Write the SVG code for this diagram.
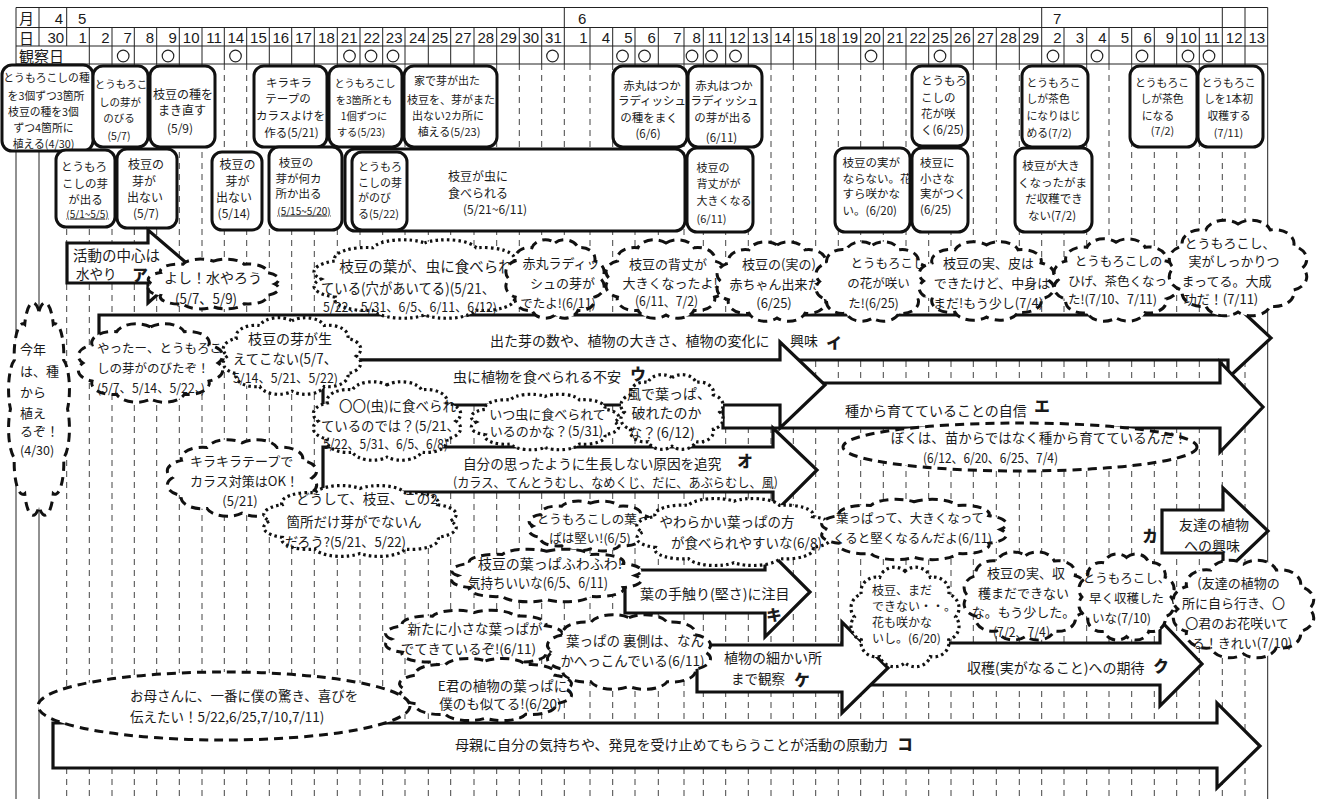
<svg xmlns="http://www.w3.org/2000/svg" width="1319" height="799" viewBox="0 0 1319 799">
<defs>
<style>
text { font-family: "Noto Sans CJK JP", "Noto Sans", sans-serif; fill: #1a1a1a; dominant-baseline: central; }
.num { font-family: "Liberation Sans", Arial, sans-serif; font-size: 15px; text-anchor: end; }
.hd { font-size: 15px; }
.c { text-anchor: middle; }
.solid { stroke: #222; stroke-width: 1; fill: none; }
.vd { stroke: #444; stroke-width: 1; stroke-dasharray: 6 5; fill: none; }
.obs { fill: none; stroke: #222; stroke-width: 1.2; }
.ev { fill: #fff; stroke: #111; stroke-width: 3; }
.ar { fill: #fff; stroke: #111; stroke-width: 3.2; stroke-linejoin: miter; }
.cp { vector-effect: non-scaling-stroke; }
.dash { fill: #fff; stroke: #111; stroke-width: 3; stroke-dasharray: 9 6; }
.dot { fill: #fff; stroke: #111; stroke-width: 3.2; stroke-dasharray: 2.5 3.2; }
.tag { font-weight: 900; font-size: 15.5px; text-anchor: middle; }
.ul { text-decoration: underline; }
</style>
<!-- generic cloud outline in a 100x100 box -->
<path id="cloud" class="cp" d="M50,6 A14,14 0 0 1 73,11.9 A14,14 0 0 1 89.8,28 A14,14 0 0 1 96,50 A14,14 0 0 1 89.8,72 A14,14 0 0 1 73,88.1 A14,14 0 0 1 50,94 A14,14 0 0 1 27,88.1 A14,14 0 0 1 10.2,72 A14,14 0 0 1 4,50 A14,14 0 0 1 10.2,28 A14,14 0 0 1 27,11.9 A14,14 0 0 1 50,6 Z"/>
</defs>
<rect width="1319" height="799" fill="#fff"/>

<!-- timeline table -->
<g id="table">
<path class="vd" d="M66.7,64V799 M89.3,64V799 M112,64V799 M134.3,64V799 M156.7,64V799 M179.3,64V799 M202,64V799 M224.3,64V799 M246.7,64V799 M269.3,64V799 M291.7,64V799 M314.3,64V799 M337.3,64V799 M360,64V799 M382.7,64V799 M405,64V799 M428.3,64V799 M450.7,64V799 M474,64V799 M496.7,64V799 M519.3,64V799 M541.7,64V799 M564.3,64V799 M590,64V799 M612.7,64V799 M635,64V799 M658.3,64V799 M684,64V799 M703.3,64V799 M725.7,64V799 M748.3,64V799 M771,64V799 M793.3,64V799 M815.7,64V799 M838.3,64V799 M860.7,64V799 M883.3,64V799 M906,64V799 M928.7,64V799 M951,64V799 M973.3,64V799 M996.3,64V799 M1019.3,64V799 M1041.7,64V799 M1064,64V799 M1086.7,64V799 M1109,64V799 M1131.7,64V799 M1154.3,64V799 M1176.7,64V799 M1199.3,64V799 M1222.3,64V799 M1245,64V799"/>
<path class="solid" d="M16,7.5H1267.7 M16,27.5H1267.7 M16,46H1267.7 M16,64H1267.7 M16,7.5V799 M1267.7,7.5V799 M39,7.5V46 M39,64V799 M66.7,7.5V46 M564.3,7.5V64 M1041.7,7.5V64 M1222.3,7.5V64 M1245,7.5V64 M89.3,27.5V64 M112,27.5V64 M134.3,27.5V64 M156.7,27.5V64 M179.3,27.5V64 M202,27.5V64 M224.3,27.5V64 M246.7,27.5V64 M269.3,27.5V64 M291.7,27.5V64 M314.3,27.5V64 M337.3,27.5V64 M360,27.5V64 M382.7,27.5V64 M405,27.5V64 M428.3,27.5V64 M450.7,27.5V64 M474,27.5V64 M496.7,27.5V64 M519.3,27.5V64 M541.7,27.5V64 M590,27.5V64 M612.7,27.5V64 M635,27.5V64 M658.3,27.5V64 M684,27.5V64 M703.3,27.5V64 M725.7,27.5V64 M748.3,27.5V64 M771,27.5V64 M793.3,27.5V64 M815.7,27.5V64 M838.3,27.5V64 M860.7,27.5V64 M883.3,27.5V64 M906,27.5V64 M928.7,27.5V64 M951,27.5V64 M973.3,27.5V64 M996.3,27.5V64 M1019.3,27.5V64 M1064,27.5V64 M1086.7,27.5V64 M1109,27.5V64 M1131.7,27.5V64 M1154.3,27.5V64 M1176.7,27.5V64 M1199.3,27.5V64"/>
<text class="hd" x="19" y="17.5">月</text>
<text class="hd" x="19" y="37">日</text>
<text class="hd" x="19" y="55.5">観察日</text>
<text class="num"><tspan x="63" y="17.5">4</tspan></text>
<text class="num" style="text-anchor:start"><tspan x="78" y="17.5">5</tspan><tspan x="578" y="17.5">6</tspan><tspan x="1053" y="17.5">7</tspan></text>
<text class="num" y="37"><tspan x="64.2" y="37">30</tspan><tspan x="86.8" y="37">1</tspan><tspan x="109.5" y="37">2</tspan><tspan x="131.8" y="37">7</tspan><tspan x="154.2" y="37">8</tspan><tspan x="176.8" y="37">9</tspan><tspan x="199.5" y="37">10</tspan><tspan x="221.8" y="37">11</tspan><tspan x="244.2" y="37">14</tspan><tspan x="266.8" y="37">15</tspan><tspan x="289.2" y="37">16</tspan><tspan x="311.8" y="37">17</tspan><tspan x="334.8" y="37">18</tspan><tspan x="357.5" y="37">21</tspan><tspan x="380.2" y="37">22</tspan><tspan x="402.5" y="37">23</tspan><tspan x="425.8" y="37">24</tspan><tspan x="448.2" y="37">25</tspan><tspan x="471.5" y="37">27</tspan><tspan x="494.2" y="37">28</tspan><tspan x="516.8" y="37">29</tspan><tspan x="539.2" y="37">30</tspan><tspan x="561.8" y="37">31</tspan><tspan x="587.5" y="37">1</tspan><tspan x="610.2" y="37">4</tspan><tspan x="632.5" y="37">5</tspan><tspan x="655.8" y="37">6</tspan><tspan x="681.5" y="37">7</tspan><tspan x="700.8" y="37">8</tspan><tspan x="723.2" y="37">11</tspan><tspan x="745.8" y="37">12</tspan><tspan x="768.5" y="37">13</tspan><tspan x="790.8" y="37">14</tspan><tspan x="813.2" y="37">15</tspan><tspan x="835.8" y="37">18</tspan><tspan x="858.2" y="37">19</tspan><tspan x="880.8" y="37">20</tspan><tspan x="903.5" y="37">21</tspan><tspan x="926.2" y="37">22</tspan><tspan x="948.5" y="37">25</tspan><tspan x="970.8" y="37">26</tspan><tspan x="993.8" y="37">27</tspan><tspan x="1016.8" y="37">28</tspan><tspan x="1039.2" y="37">29</tspan><tspan x="1061.5" y="37">2</tspan><tspan x="1084.2" y="37">3</tspan><tspan x="1106.5" y="37">4</tspan><tspan x="1129.2" y="37">5</tspan><tspan x="1151.8" y="37">6</tspan><tspan x="1174.2" y="37">9</tspan><tspan x="1196.8" y="37">10</tspan><tspan x="1219.8" y="37">11</tspan><tspan x="1242.5" y="37">12</tspan><tspan x="1265.2" y="37">13</tspan></text>
<g class="obs">
<circle cx="123.2" cy="56" r="5.8"/><circle cx="168" cy="56" r="5.8"/><circle cx="235.5" cy="56" r="5.8"/>
<circle cx="349.5" cy="56" r="5.8"/><circle cx="371" cy="56" r="5.8"/><circle cx="393" cy="56" r="5.8"/>
<circle cx="552.5" cy="56" r="5.8"/><circle cx="622.5" cy="56" r="5.8"/><circle cx="644.5" cy="56" r="5.8"/>
<circle cx="692" cy="56" r="5.8"/><circle cx="711.5" cy="56" r="5.8"/><circle cx="735.5" cy="56" r="5.8"/>
<circle cx="871" cy="56" r="5.8"/><circle cx="940" cy="56" r="5.8"/><circle cx="1053" cy="56" r="5.8"/>
<circle cx="1097" cy="56" r="5.8"/><circle cx="1142" cy="56" r="5.8"/><circle cx="1188" cy="56" r="5.8"/>
<circle cx="1209" cy="56" r="5.8"/>
</g>
</g>

<!-- events, upper row -->
<g id="ev-a1" font-size="10.8"><rect class="ev" x="2" y="65" width="91" height="86" rx="10"/>
<text class="c" x="46.5" y="77">とうもろこしの種</text><text class="c" x="46" y="94.5">を3個ずつ3箇所</text><text class="c" x="43.5" y="110.5">枝豆の種を3個</text><text class="c" x="43.5" y="127">ずつ4箇所に</text><text class="c" x="43.5" y="143">植える(4/30)</text></g>
<g id="ev-a2" font-size="10.5"><rect class="ev" x="93" y="66" width="55" height="81" rx="10"/>
<text class="c" x="121" y="83">とうもろこ</text><text class="c" x="120" y="101">しの芽が</text><text class="c" x="119" y="117">のびる</text><text class="c" x="119" y="135">(5/7)</text></g>
<g id="ev-a3" font-size="12"><rect class="ev" x="150" y="66" width="65" height="81" rx="10"/>
<text class="c" x="183" y="93">枝豆の種を</text><text class="c" x="182" y="109">まき直す</text><text class="c" x="180" y="127">(5/9)</text></g>
<g id="ev-a4" font-size="11.5"><rect class="ev" x="254" y="66" width="73" height="81" rx="10"/>
<text class="c" x="289" y="82">キラキラ</text><text class="c" x="288" y="98">テープの</text><text class="c" x="290.5" y="115">カラスよけを</text><text class="c" x="291.5" y="132">作る(5/21)</text></g>
<g id="ev-a5" font-size="10.2"><rect class="ev" x="329" y="66" width="73" height="81" rx="10"/>
<text class="c" x="365" y="82">とうもろこし</text><text class="c" x="364" y="99">を3箇所とも</text><text class="c" x="364" y="115">1個ずつに</text><text class="c" x="361" y="131">する(5/23)</text></g>
<g id="ev-a6" font-size="11"><rect class="ev" x="404" y="66" width="93" height="81" rx="10"/>
<text class="c" x="447" y="80">家で芽が出た</text><text class="c" x="451" y="99">枝豆を、芽がまた</text><text class="c" x="448" y="115">出ない2カ所に</text><text class="c" x="449" y="131">植える(5/23)</text></g>
<g id="ev-a7" font-size="11.5"><rect class="ev" x="613" y="66" width="74" height="81" rx="10"/>
<text class="c" x="652" y="85">赤丸はつか</text><text class="c" x="652" y="100">ラディッシュ</text><text class="c" x="649" y="117">の種をまく</text><text class="c" x="648" y="133">(6/6)</text></g>
<g id="ev-a8" font-size="11.5"><rect class="ev" x="688" y="66" width="74" height="81" rx="10"/>
<text class="c" x="724" y="85">赤丸はつか</text><text class="c" x="724.5" y="100">ラディッシュ</text><text class="c" x="723" y="117">の芽が出る</text><text class="c" x="721.5" y="137">(6/11)</text></g>
<g id="ev-a9" font-size="11.5"><rect class="ev" x="912" y="66" width="56" height="80" rx="10"/>
<text x="921" y="80">とうもろ</text><text x="921" y="97">こしの</text><text x="921" y="113">花が咲</text><text x="921" y="129">く(6/25)</text></g>
<g id="ev-a10" font-size="10.8"><rect class="ev" x="1022" y="66" width="66" height="81" rx="10"/>
<text x="1026.5" y="82">とうもろこ</text><text x="1026.5" y="98">しが茶色</text><text x="1026.5" y="115">になりはじ</text><text x="1026.5" y="132">める(7/2)</text></g>
<g id="ev-a11" font-size="10.8"><rect class="ev" x="1130" y="66" width="67" height="81" rx="10"/>
<text class="c" x="1162" y="82">とうもろこ</text><text class="c" x="1162" y="98">しが茶色</text><text class="c" x="1158" y="115">になる</text><text class="c" x="1162.5" y="130">(7/2)</text></g>
<g id="ev-a12" font-size="10.8"><rect class="ev" x="1198" y="66" width="65" height="81" rx="10"/>
<text class="c" x="1228.5" y="82">とうもろこ</text><text class="c" x="1228.5" y="98">しを1本初</text><text class="c" x="1229" y="115">収穫する</text><text class="c" x="1228.5" y="132">(7/11)</text></g>

<!-- events, lower row -->
<g id="ev-b1" font-size="11.5"><rect class="ev" x="56" y="150" width="59" height="77" rx="10"/>
<text class="c" x="84" y="166">とうもろ</text><text class="c" x="85" y="183">こしの芽</text><text class="c" x="85.5" y="199">が出る</text><text class="c ul" x="87.5" y="213" font-size="10">(5/1~5/5)</text></g>
<g id="ev-b2" font-size="12"><rect class="ev" x="117" y="149" width="60" height="79" rx="10"/>
<text class="c" x="146" y="163">枝豆の</text><text class="c" x="144" y="180">芽が</text><text class="c" x="145" y="196">出ない</text><text class="c" x="146" y="212">(5/7)</text></g>
<g id="ev-b3" font-size="12"><rect class="ev" x="212" y="152" width="50" height="78" rx="10"/>
<text class="c" x="237.5" y="163">枝豆の</text><text class="c" x="237.5" y="180">芽が</text><text class="c" x="234" y="196">出ない</text><text class="c" x="234" y="212">(5/14)</text></g>
<g id="ev-b4" font-size="11.5"><rect class="ev" x="269" y="147" width="73" height="83" rx="10"/>
<text class="c" x="296" y="162">枝豆の</text><text class="c" x="298.5" y="178">芽が何カ</text><text class="c" x="298.5" y="193">所か出る</text><text class="c ul" x="304" y="210" font-size="10">(5/15~5/20)</text></g>
<g id="ev-b5" font-size="12"><rect class="ev" x="345" y="149" width="340" height="82" rx="10"/>
<text x="448" y="175">枝豆が虫に</text><text x="448" y="192">食べられる</text><text x="463" y="208">(5/21~6/11)</text></g>
<g id="ev-b5i" font-size="11"><rect class="ev" x="352" y="152" width="55" height="78" rx="10"/>
<text x="358" y="166">とうもろ</text><text x="358" y="182">こしの芽</text><text x="358" y="197">がのび</text><text x="358" y="213">る(5/22)</text></g>
<g id="ev-b6" font-size="11"><rect class="ev" x="687" y="148" width="66" height="84" rx="10"/>
<text x="696.5" y="167">枝豆の</text><text x="696.5" y="183">背丈がが</text><text x="696.5" y="200">大きくなる</text><text x="696.5" y="218">(6/11)</text></g>
<g id="ev-b7" font-size="11.5"><rect class="ev" x="835" y="148" width="75" height="84" rx="10"/>
<text x="842.5" y="162">枝豆の実が</text><text x="842.5" y="178">ならない。花</text><text x="842.5" y="193">すら咲かな</text><text x="842.5" y="210">い。(6/20)</text></g>
<g id="ev-b8" font-size="11.5"><rect class="ev" x="912" y="148" width="56" height="84" rx="10"/>
<text x="920" y="162">枝豆に</text><text x="920" y="178">小さな</text><text x="920" y="193">実がつく</text><text x="920" y="209">(6/25)</text></g>
<g id="ev-b9" font-size="11.5"><rect class="ev" x="1015" y="148" width="77" height="84" rx="10"/>
<text class="c" x="1051" y="165">枝豆が大き</text><text class="c" x="1052.5" y="182">くなったがま</text><text class="c" x="1054" y="198">だ収穫でき</text><text class="c" x="1052" y="215">ない(7/2)</text></g>

<!-- block arrows: interest themes -->
<g id="arrows" font-size="14">
<g id="ar-ko"><polygon class="ar" points="53,723 1217,723 1217,703 1260,746 1217,788 1217,768 53,768"/>
<text x="455" y="744">母親に自分の気持ちや、発見を受け止めてもらうことが活動の原動力</text><text class="tag" x="905" y="743">コ</text></g>
<g id="ar-ku"><polygon class="ar" points="842,643 1160,643 1160,620 1202,664 1160,706 1160,685 842,685"/>
<text x="967" y="667">収穫(実がなること)への期待</text><text class="tag" x="1161" y="665">ク</text></g>
<g id="ar-ke"><polygon class="ar" points="697,645 842,645 842,622 888,668 842,713 842,692 697,692"/>
<text class="c" x="773" y="657">植物の細かい所</text><text x="731" y="678" font-size="13.5">まで観察</text><text class="tag" x="802" y="679">ケ</text></g>
<g id="ar-ki"><polygon class="ar" points="625,570 765,570 765,547 810,592 765,637 765,613 625,613"/>
<text x="640" y="593">葉の手触り(堅さ)に注目</text><text class="tag" x="774" y="614">キ</text></g>
<g id="ar-ka"><polygon class="ar" points="1162,510 1223,510 1223,488 1268,531 1223,574 1223,553 1162,553"/>
<text class="c" x="1214" y="524">友達の植物</text><text class="c" x="1212" y="545">への興味</text><text class="tag" x="1150" y="535">カ</text></g>
<g id="ar-i"><polygon class="ar" points="99,315 1228,315 1228,298 1271,338 1228,378 1228,360 99,360"/>
<text x="490" y="340">出た芽の数や、植物の大きさ、植物の変化に<tspan x="790">興味</tspan></text><text class="tag" x="834" y="342">イ</text></g>
<g id="ar-e"><polygon class="ar" points="723,383 1220,383 1220,362 1263,407 1220,452 1220,428 723,428"/>
<text x="845" y="410">種から育てていることの自信</text><text class="tag" x="1042" y="405">エ</text></g>
<g id="ar-u"><polygon class="ar" points="323,360 780,360 780,342 825,385 780,428 780,405 323,405"/>
<text x="453" y="376">虫に植物を食べられる不安</text><text class="tag" x="638" y="373">ウ</text></g>
<g id="ar-o"><polygon class="ar" points="323,447 773,447 773,428 817,470 773,514 773,492 323,492"/>
<text x="463" y="463" font-size="13.6">自分の思ったように生長しない原因を追究</text><text x="453" y="481" font-size="13" textLength="325" lengthAdjust="spacingAndGlyphs">(カラス、てんとうむし、なめくじ、だに、あぶらむし、風)</text><text class="tag" x="745" y="460">オ</text></g>
<g id="ar-a"><polygon class="ar" points="67,243 148,243 148,230 190,266 148,303 148,283 67,283"/>
<text x="73" y="254" font-size="14.5">活動の中心は</text><text x="76" y="273" font-size="13.5">水やり</text><text class="tag" x="140" y="274">ア</text></g>
</g>

<!-- children's remarks -->
<g id="cl-kotoshi" font-size="13"><use href="#cloud" class="dash" transform="translate(8,298) scale(0.62,2.22)"/>
<text x="20" y="348">今年</text><text x="20" y="370">は、種</text><text x="20" y="391">から</text><text x="20" y="412">植え</text><text x="20" y="430">るぞ！</text><text x="20" y="449" font-size="12.5">(4/30)</text></g>
<g id="cl-yoshi" font-size="14"><use href="#cloud" class="dash" transform="translate(147,258) scale(1.33,0.52)"/>
<text class="c" x="213" y="277">よし！水やろう</text><text x="175" y="298" textLength="62" lengthAdjust="spacingAndGlyphs">(5/7、5/9)</text></g>
<g id="cl-yatta" font-size="12.5"><use href="#cloud" class="dash" transform="translate(77,322) scale(1.47,0.82)"/>
<text x="97" y="347">やったー、とうもろこ</text><text x="97" y="367">しの芽がのびたぞ！</text><text x="97" y="387" textLength="108" lengthAdjust="spacingAndGlyphs">(5/7、5/14、5/22、)</text></g>
<g id="cl-edamame-me" font-size="14"><use href="#cloud" class="dot" transform="translate(222,316) scale(1.40,0.80)"/>
<text class="c" x="290" y="338">枝豆の芽が生</text><text x="233" y="358" textLength="104" lengthAdjust="spacingAndGlyphs">えてこない(5/7、</text><text x="233" y="377" font-size="12.5" textLength="105" lengthAdjust="spacingAndGlyphs">5/14、5/21、5/22)</text></g>
<g id="cl-kirakira" font-size="13"><use href="#cloud" class="dash" transform="translate(166,438) scale(1.52,0.80)"/>
<text x="190" y="460">キラキラテープで</text><text x="190" y="480">カラス対策はOK！</text><text class="c" x="240" y="500">(5/21)</text></g>
<g id="cl-doushite" font-size="13.5"><use href="#cloud" class="dot" transform="translate(262,484) scale(1.96,0.74)"/>
<text class="c" x="367" y="498">どうして、枝豆、この2</text><text class="c" x="354" y="521">箇所だけ芽がでないん</text><text x="285" y="541" textLength="121" lengthAdjust="spacingAndGlyphs">だろう?(5/21、5/22)</text></g>
<g id="cl-ha-mushi" font-size="14.5"><use href="#cloud" class="dot" transform="translate(312,238) scale(2.25,0.82)"/>
<text class="c" x="426" y="265">枝豆の葉が、虫に食べられ</text><text x="321" y="287" textLength="174" lengthAdjust="spacingAndGlyphs">ている(穴があいてる)(5/21、</text><text x="323" y="306" font-size="12.5" textLength="174" lengthAdjust="spacingAndGlyphs">5/22、5/31、6/5、6/11、6/12)</text></g>
<g id="cl-radish" font-size="13"><use href="#cloud" class="dash" transform="translate(505,238) scale(1.00,0.82)"/>
<text class="c" x="561" y="262">赤丸ラディッ</text><text class="c" x="562.5" y="282">シュの芽が</text><text class="c" x="558" y="302" font-size="12.5">でたよ!(6/11)</text></g>
<g id="cl-setake" font-size="13"><use href="#cloud" class="dash" transform="translate(605,238) scale(1.22,0.82)"/>
<text class="c" x="668" y="263">枝豆の背丈が</text><text class="c" x="670" y="282">大きくなったよ!</text><text x="635" y="300" textLength="63" lengthAdjust="spacingAndGlyphs">(6/11、7/2)</text></g>
<g id="cl-akachan" font-size="13"><use href="#cloud" class="dash" transform="translate(716,240) scale(1.22,0.83)"/>
<text class="c" x="779" y="263">枝豆の(実の)</text><text class="c" x="775" y="283">赤ちゃん出来た</text><text class="c" x="774" y="302">(6/25)</text></g>
<g id="cl-hana" font-size="12.5"><use href="#cloud" class="dash" transform="translate(815,240) scale(1.15,0.83)"/>
<text class="c" x="888" y="262">とうもろこし</text><text class="c" x="878.5" y="282">の花が咲い</text><text class="c" x="873.5" y="302">た!(6/25)</text></g>
<g id="cl-kawa" font-size="13"><use href="#cloud" class="dash" transform="translate(918,240) scale(1.37,0.82)"/>
<text class="c" x="988.5" y="262">枝豆の実、皮は</text><text class="c" x="992" y="282">できたけど、中身は</text><text class="c" x="988" y="302">まだ!もう少し(7/4)</text></g>
<g id="cl-hige" font-size="12.5"><use href="#cloud" class="dash" transform="translate(1053,237) scale(1.26,0.86)"/>
<text class="c" x="1118.5" y="260">とうもろこしの</text><text class="c" x="1117.5" y="280">ひげ、茶色くなっ</text><text x="1068" y="298" textLength="89" lengthAdjust="spacingAndGlyphs">た!(7/10、7/11)</text></g>
<g id="cl-daiseikou" font-size="13"><use href="#cloud" class="dash" transform="translate(1168,218) scale(1.40,1.00)"/>
<text class="c" x="1230" y="242">とうもろこし、</text><text class="c" x="1234" y="260">実がしっかりつ</text><text class="c" x="1226.5" y="280">まってる。大成</text><text class="c" x="1221" y="298">功だ！(7/11)</text></g>
<g id="cl-boku" font-size="13.5"><ellipse class="dash" cx="1020" cy="447" rx="177" ry="24"/>
<text class="c" x="1039" y="437">ぼくは、苗からではなく種から育てているんだ！</text><text x="923" y="457" textLength="135" lengthAdjust="spacingAndGlyphs">(6/12、6/20、6/25、7/4)</text></g>
<g id="cl-marumaru" font-size="13.5"><use href="#cloud" class="dot" transform="translate(312,380) scale(1.50,0.82)"/>
<text class="c" x="397.5" y="405">〇〇(虫)に食べられ</text><text x="321" y="425" textLength="139" lengthAdjust="spacingAndGlyphs">ているのでは？(5/21、</text><text x="323" y="443" textLength="125" lengthAdjust="spacingAndGlyphs">5/22、5/31、6/5、6/8)</text></g>
<g id="cl-itsu" font-size="13"><use href="#cloud" class="dot" transform="translate(470,393) scale(1.50,0.58)"/>
<text class="c" x="547.5" y="413">いつ虫に食べられて</text><text class="c" x="546.5" y="430">いるのかな？(5/31)</text></g>
<g id="cl-kaze" font-size="14"><use href="#cloud" class="dot" transform="translate(620,373) scale(1.04,0.78)"/>
<text class="c" x="669" y="393">風で葉っぱ、</text><text class="c" x="666.5" y="412">破れたのか</text><text class="c" x="661.5" y="432">な？(6/12)</text></g>
<g id="cl-katai" font-size="12.5"><use href="#cloud" class="dash" transform="translate(528,500) scale(1.25,0.52)"/>
<text class="c" x="593" y="518">とうもろこしの葉っ</text><text class="c" x="590" y="537">ぱは堅い!(6/5)</text></g>
<g id="cl-yawaraka" font-size="13.5"><use href="#cloud" class="dot" transform="translate(635,497) scale(1.98,0.70)"/>
<text class="c" x="727" y="521">やわらかい葉っぱの方</text><text class="c" x="746.5" y="542">が食べられやすいな(6/8)</text></g>
<g id="cl-ookiku" font-size="12.5"><use href="#cloud" class="dash" transform="translate(820,498) scale(1.88,0.63)"/>
<text class="c" x="910" y="517">葉っぱって、大きくなって</text><text class="c" x="912.5" y="537">くると堅くなるんだよ(6/11)</text></g>
<g id="cl-fuwafuwa" font-size="14"><use href="#cloud" class="dash" transform="translate(450,548) scale(1.93,0.55)"/>
<text class="c" x="550" y="563">枝豆の葉っぱふわふわ!</text><text x="468" y="582" textLength="140" lengthAdjust="spacingAndGlyphs">気持ちいいな(6/5、6/11)</text></g>
<g id="cl-aratani" font-size="13.5"><use href="#cloud" class="dash" transform="translate(384,609) scale(1.80,0.60)"/>
<text class="c" x="475" y="628">新たに小さな葉っぱが</text><text class="c" x="468.5" y="648">でてきているぞ!(6/11)</text></g>
<g id="cl-uragawa" font-size="13.5"><use href="#cloud" class="dash" transform="translate(546,613) scale(1.66,0.78)"/>
<text class="c" x="635" y="640">葉っぱの 裏側は、なん</text><text class="c" x="632.5" y="660">かへっこんでいる(6/11)</text></g>
<g id="cl-ekun" font-size="13.5"><use href="#cloud" class="dash" transform="translate(398,657) scale(1.75,0.65)"/>
<text class="c" x="509" y="685">E君の植物の葉っぱに、</text><text class="c" x="500.5" y="703">僕のも似てる!(6/20)</text></g>
<g id="cl-okaasan" font-size="13.5"><ellipse class="dash" cx="224" cy="706" rx="186" ry="34"/>
<text x="130" y="695">お母さんに、一番に僕の驚き、喜びを</text><text x="130" y="716">伝えたい！5/22,6/25,7/10,7/11)</text></g>
<g id="cl-mada" font-size="12"><use href="#cloud" class="dot" transform="translate(850,565) scale(1.10,1.04)"/>
<text x="872" y="589">枝豆、まだ</text><text x="872" y="605">できない・・。</text><text x="872" y="621">花も咲かな</text><text x="872" y="637">いし。(6/20)</text></g>
<g id="cl-shukaku" font-size="13"><use href="#cloud" class="dash" transform="translate(963,550) scale(1.25,0.92)"/>
<text class="c" x="1026" y="572">枝豆の実、収</text><text class="c" x="1023.5" y="592">穫まだできない</text><text class="c" x="1023.5" y="611">な。もう少した。</text><text x="993" y="631" textLength="57" lengthAdjust="spacingAndGlyphs">(7/2、7/4)</text></g>
<g id="cl-hayaku" font-size="12.5"><use href="#cloud" class="dash" transform="translate(1078,552) scale(0.97,0.90)"/>
<text class="c" x="1126.5" y="577">とうもろこし、</text><text class="c" x="1126.5" y="597">早く収穫した</text><text class="c" x="1121.5" y="617">いな(7/10)</text></g>
<g id="cl-tomodachi" font-size="13"><use href="#cloud" class="dash" transform="translate(1172,558) scale(1.43,1.02)"/>
<text class="c" x="1238.5" y="582">(友達の植物の</text><text class="c" x="1233.5" y="602">所に自ら行き、〇</text><text class="c" x="1237" y="622">〇君のお花咲いて</text><text class="c" x="1242" y="642">る！きれい(7/10)</text></g>
</svg>
